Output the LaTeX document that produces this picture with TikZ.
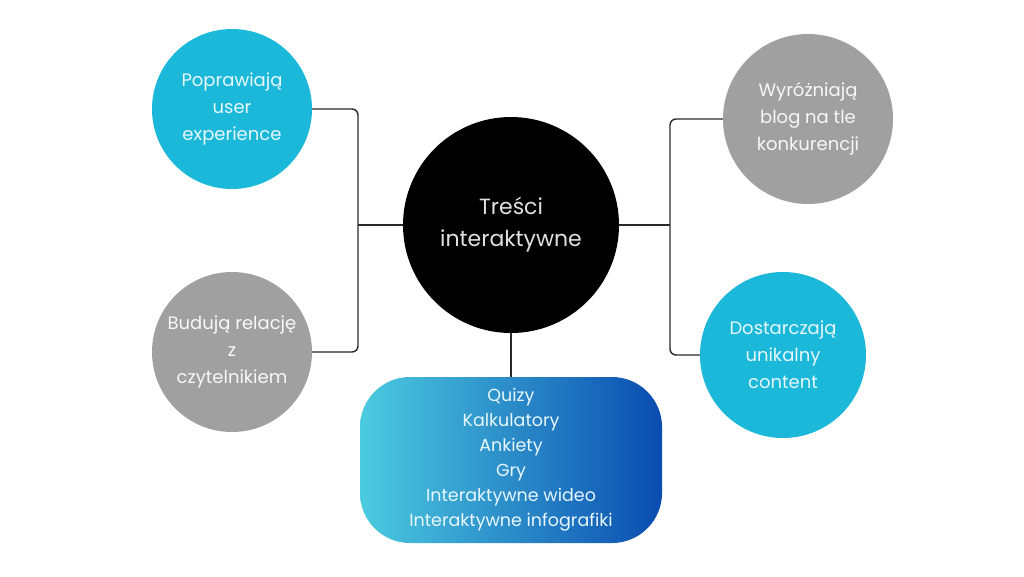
\documentclass[tikz,border=0pt]{standalone}
\usepackage{fontspec}
\setmainfont{Poppins}
\definecolor{cyanc}{HTML}{1BB8DA}
\definecolor{grayc}{HTML}{A0A0A0}
\definecolor{linec}{HTML}{2A2A2A}
\definecolor{gleft}{HTML}{4CCBE0}
\definecolor{gright}{HTML}{0A4CB0}
\begin{document}
\begin{tikzpicture}[x=1pt,y=-1pt,
  bubble/.style={circle,inner sep=0pt,align=center,font=\fontsize{18}{27}\selectfont},
  cyanb/.style={bubble,fill=cyanc,text=white!90!cyan},
  grayb/.style={bubble,fill=grayc,text=white!94!gray},
  conn/.style={draw=linec,line width=1.4pt,rounded corners=6pt}]
\useasboundingbox[fill=white] (0,0) rectangle (1024,576);
\node[circle,fill=black,minimum size=216pt,inner sep=0pt,align=center,text=white!88!black,
  font=\fontsize{22}{32}\selectfont] (c) at (511,225) {Treści\\interaktywne};
\node[cyanb,minimum size=160pt] (tl) at (232,109) {Poprawiają\\user\\experience};
\node[grayb,minimum size=160pt] (bl) at (232,352) {Budują relację\\z\\czytelnikiem};
\node[grayb,minimum size=170pt] (tr) at (808,119) {Wyróżniają\\blog na tle\\konkurencji};
\node[cyanb,minimum size=166pt] (br) at (783,355) {Dostarczają\\unikalny\\content};
\node[rounded corners=50pt,left color=gleft,right color=gright,minimum width=302pt,
  minimum height=166pt,inner sep=0pt,align=center,text=white!90!cyan,
  font=\fontsize{17.5}{25}\selectfont] (box) at (511,460)
  {Quizy\\Kalkulatory\\Ankiety\\Gry\\Interaktywne wideo\\Interaktywne infografiki};
\coordinate (jl) at (358,225);
\coordinate (jr) at (670,225);
\draw[conn] (tl.east) -| (jl) |- (bl.east);
\draw[conn] (tr.west) -| (jr) |- (br.west);
\draw[conn] (c.west) -- (jl);
\draw[conn] (c.east) -- (jr);
\draw[conn] (c.south) -- (box.north);
\end{tikzpicture}
\end{document}
